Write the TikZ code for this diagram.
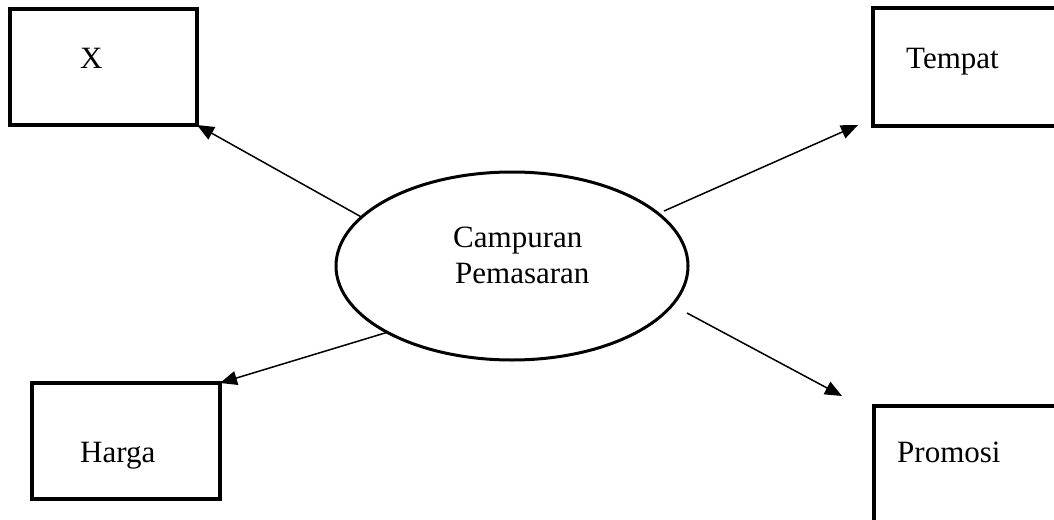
\documentclass[tikz,border=0pt]{standalone}
\usepackage{fontspec}
\setmainfont{Liberation Serif}
\usetikzlibrary{arrows.meta,calc,shapes.geometric}
\begin{document}
\begin{tikzpicture}[x=1pt,y=-1pt,
  box/.style={draw,line width=4pt,rectangle,inner sep=0pt,outer sep=0pt},
  oval/.style={draw,line width=3pt,ellipse,inner sep=0pt,outer sep=0pt,minimum width=352pt,minimum height=188pt},
  lbl/.style={anchor=base west,inner sep=0pt,font=\fontsize{31}{36}\selectfont},
  conn/.style={line width=1.5pt,-{Triangle[length=17pt,width=14pt]}}]
\useasboundingbox (0,0) rectangle (1054,519);
\clip (0,0) rectangle (1054,519);
\fill[white] (0,0) rectangle (1054,519);
% boxes
\node[box,minimum width=187pt,minimum height=116pt] (x) at (103.5,67) {};
\node[box,minimum width=190pt,minimum height=118pt] (t) at (968,67) {};
\node[box,minimum width=188pt,minimum height=116pt] (h) at (126,441) {};
\node[box,minimum width=190pt,minimum height=120pt] (p) at (969,466) {};
% labels
\node[lbl] (xl) at (80,68) {X};
\node[lbl] (tl) at (906,68) {Tempat};
\node[lbl] (hl) at (80,462) {Harga};
\node[lbl] (pl) at (897,462) {Promosi};
% ellipse
\node[oval] (c) at (512,266) {};
\node[lbl] (c1) at (453,247) {Campuran};
\node[lbl] (c2) at (455,283) {Pemasaran};
% free ends
\coordinate (te) at ($(t.south west)+(-15,-1)$);
\coordinate (pe) at ($(p.north west)+(-32,-10)$);
\coordinate (ps) at ($(c.center)+(175,47)$);
\coordinate (ts) at ($(c.center)+(152,-55)$);
% connectors
\draw[conn] (c.162) -- (x.south east);
\draw[conn] (ts) -- (te);
\draw[conn] (c.208) -- (h.north east);
\draw[conn] (ps) -- (pe);
\end{tikzpicture}
\end{document}
